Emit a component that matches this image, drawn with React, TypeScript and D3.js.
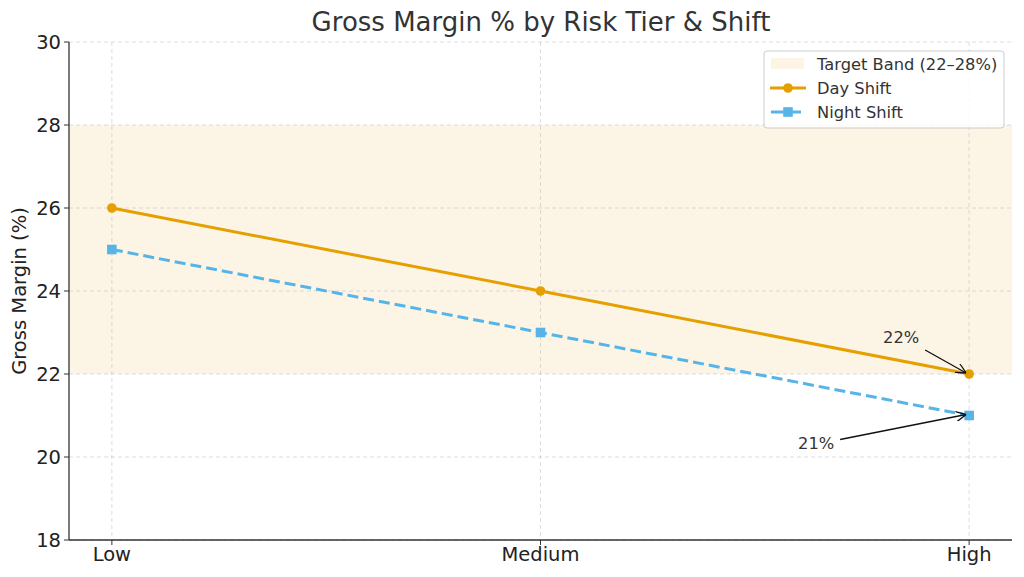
import React from "react";
import * as d3 from "d3";

const categories = ["Low", "Medium", "High"];
const daySeries = [26, 24, 22];
const nightSeries = [25, 23, 21];
const yTicks = [18, 20, 22, 24, 26, 28, 30];
const band = [22, 28];
const annotations = [
  { label: "22%", series: "day", index: 2, dx: -68, dy: -37 },
  { label: "21%", series: "night", index: 2, dx: -153, dy: 28 },
];

const W = 1024;
const H = 577;
const M = { left: 69, right: 1012, top: 42, bottom: 540 };
const FONT = "'DejaVu Sans', sans-serif";
const ORANGE = "#E69F00";
const BLUE = "#56B4E9";

export default function App() {
  const x = d3.scaleLinear().domain([-0.1, 2.1]).range([M.left, M.right]);
  const y = d3.scaleLinear().domain([18, 30]).range([M.bottom, M.top]);
  const line = d3
    .line<number>()
    .x((_, i) => x(i))
    .y((d) => y(d));

  return (
    <div style={{ position: "fixed", left: 0, top: 0 }}>
      <svg width={W} height={H} style={{ display: "block", background: "#fff" }} fontFamily={FONT}>
        <defs>
          <marker id="arr" viewBox="0 0 10 10" refX="10" refY="5" markerWidth="10" markerHeight="10" markerUnits="userSpaceOnUse" orient="auto">
            <path d="M0,0 L10,5 L0,10" fill="none" stroke="#111" strokeWidth={1.3} />
          </marker>
        </defs>
        {/* band */}
        <rect x={M.left} y={y(band[1])} width={M.right - M.left} height={y(band[0]) - y(band[1])} fill="#E69F00" fillOpacity={0.1} />
        {/* grid */}
        {yTicks.map((t) => (
          <line key={"gy" + t} x1={M.left} x2={M.right} y1={y(t)} y2={y(t)} stroke="#b0b0b0" strokeOpacity={0.55} strokeDasharray="4,3" strokeWidth={0.8} />
        ))}
        {categories.map((c, i) => (
          <line key={"gx" + c} x1={x(i)} x2={x(i)} y1={M.top} y2={M.bottom} stroke="#b0b0b0" strokeOpacity={0.55} strokeDasharray="4,3" strokeWidth={0.8} />
        ))}
        {/* axes */}
        <line x1={M.left} x2={M.left} y1={M.top} y2={M.bottom} stroke="#333" strokeWidth={1.3} />
        <line x1={M.left} x2={M.right} y1={M.bottom} y2={M.bottom} stroke="#333" strokeWidth={1.3} />
        {yTicks.map((t) => (
          <g key={"ty" + t}>
            <line x1={M.left - 5} x2={M.left} y1={y(t)} y2={y(t)} stroke="#333" strokeWidth={1} />
            <text x={M.left - 8} y={y(t)} dy="0.35em" textAnchor="end" fontSize={19.5} fill="#222">{t}</text>
          </g>
        ))}
        {categories.map((c, i) => (
          <g key={"tx" + c}>
            <line x1={x(i)} x2={x(i)} y1={M.bottom} y2={M.bottom + 5} stroke="#333" strokeWidth={1} />
            <text x={x(i)} y={M.bottom + 21} textAnchor="middle" fontSize={19.5} fill="#222">{c}</text>
          </g>
        ))}
        <text transform={`translate(26,${(M.top + M.bottom) / 2}) rotate(-90)`} textAnchor="middle" fontSize={19.5} fill="#222">Gross Margin (%)</text>
        <text x={541} y={31} textAnchor="middle" fontSize={26} fill="#333">Gross Margin % by Risk Tier &amp; Shift</text>
        {/* lines */}
        <path d={line(daySeries) || ""} fill="none" stroke={ORANGE} strokeWidth={3} />
        <path d={line(nightSeries) || ""} fill="none" stroke={BLUE} strokeWidth={3} strokeDasharray="11,5" />
        {daySeries.map((d, i) => (
          <circle key={"dc" + i} cx={x(i)} cy={y(d)} r={4.8} fill={ORANGE} />
        ))}
        {nightSeries.map((d, i) => (
          <rect key={"nr" + i} x={x(i) - 4.8} y={y(d) - 4.8} width={9.6} height={9.6} fill={BLUE} />
        ))}
        {/* annotations */}
        {annotations.map((a) => {
          const v = a.series === "day" ? daySeries[a.index] : nightSeries[a.index];
          const px = x(a.index);
          const py = y(v);
          const tx = px + a.dx;
          const ty = py + a.dy;
          const sx = tx + 24;
          const sy = a.series === "day" ? ty + 13 : ty - 4;
          return (
            <g key={a.label}>
              <text x={tx} y={ty} dy="0.35em" textAnchor="middle" fontSize={16.3} fill="#333">{a.label}</text>
              <line x1={sx} y1={sy} x2={px - 3} y2={py - 1} stroke="#111" strokeWidth={1.3} markerEnd="url(#arr)" />
            </g>
          );
        })}
        {/* legend */}
        <g>
          <rect x={764} y={51} width={240} height={77} rx={3} fill="#fff" fillOpacity={0.8} stroke="#ccc" strokeWidth={1} />
          <rect x={771} y={58} width={33} height={11} fill="#E69F00" fillOpacity={0.1} />
          <text x={817} y={64} dy="0.35em" fontSize={16.3} fill="#333">Target Band (22–28%)</text>
          <line x1={770} x2={806} y1={88} y2={88} stroke={ORANGE} strokeWidth={3} />
          <circle cx={788} cy={88} r={4.8} fill={ORANGE} />
          <text x={817} y={88} dy="0.35em" fontSize={16.3} fill="#333">Day Shift</text>
          <line x1={771} x2={801} y1={112} y2={112} stroke={BLUE} strokeWidth={3} />
          <rect x={783.2} y={107.2} width={9.6} height={9.6} fill={BLUE} />
          <text x={817} y={112} dy="0.35em" fontSize={16.3} fill="#333">Night Shift</text>
        </g>
      </svg>
    </div>
  );
}
